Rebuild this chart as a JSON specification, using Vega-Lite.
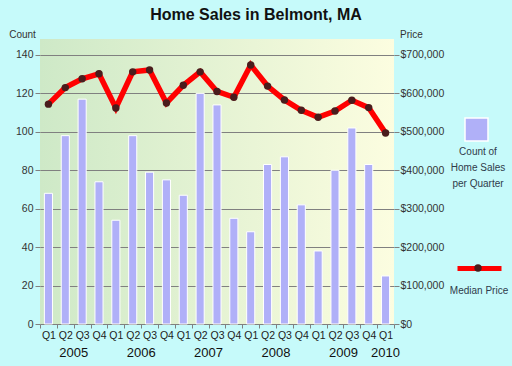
{
  "$schema": "https://vega.github.io/schema/vega-lite/v6.json",
  "width": 354,
  "height": 285,
  "autosize": {"type": "none"},
  "padding": {"left": 40, "top": 39, "right": 118, "bottom": 42},
  "background": "#c6fafa",
  "title": {"text": "Home Sales in Belmont, MA", "font": "Liberation Sans", "fontSize": 16, "fontWeight": "bold", "color": "#111111", "anchor": "middle", "dx": 39, "offset": 6},
  "datasets": {
    "sales": [
      {"period": "2005 Q1", "count": 68, "price": 572000},
      {"period": "2005 Q2", "count": 98, "price": 615000},
      {"period": "2005 Q3", "count": 117, "price": 638000},
      {"period": "2005 Q4", "count": 74, "price": 651000},
      {"period": "2006 Q1", "count": 54, "price": 562000},
      {"period": "2006 Q2", "count": 98, "price": 656000},
      {"period": "2006 Q3", "count": 79, "price": 661000},
      {"period": "2006 Q4", "count": 75, "price": 575000},
      {"period": "2007 Q1", "count": 67, "price": 621000},
      {"period": "2007 Q2", "count": 120, "price": 656000},
      {"period": "2007 Q3", "count": 114, "price": 605000},
      {"period": "2007 Q4", "count": 55, "price": 590000},
      {"period": "2008 Q1", "count": 48, "price": 674000},
      {"period": "2008 Q2", "count": 83, "price": 619000},
      {"period": "2008 Q3", "count": 87, "price": 583000},
      {"period": "2008 Q4", "count": 62, "price": 556000},
      {"period": "2009 Q1", "count": 38, "price": 538000},
      {"period": "2009 Q2", "count": 80, "price": 554000},
      {"period": "2009 Q3", "count": 102, "price": 582000},
      {"period": "2009 Q4", "count": 83, "price": 563000},
      {"period": "2010 Q1", "count": 25, "price": 497000}
    ],
    "years": [
      {"period": "2005 Q2", "year": "2005"},
      {"period": "2006 Q2", "year": "2006"},
      {"period": "2007 Q2", "year": "2007"},
      {"period": "2008 Q2", "year": "2008"},
      {"period": "2009 Q2", "year": "2009"},
      {"period": "2010 Q1", "year": "2010"}
    ]
  },
  "data": {"name": "sales"},
  "layer": [
    {
      "layer": [
        {
          "mark": {"type": "bar", "stroke": "#ffffff", "strokeWidth": 1, "width": {"band": 0.48}},
          "encoding": {
            "x": {
              "field": "period", "type": "ordinal",
              "scale": {"paddingInner": 0, "paddingOuter": 0},
              "axis": {
                "title": null, "tickBand": "extent", "labelExpr": "substring(datum.label, 5)",
                "labelAngle": 0, "labelPadding": 2, "labelFontSize": 10.5, "labelColor": "#222222",
                "tickColor": "#808080", "tickSize": 4,
                "domain": false, "grid": false
              }
            },
            "y": {
              "field": "count", "type": "quantitative",
              "scale": {"domain": [0, 148.3], "nice": false},
              "axis": {
                "title": "Count", "titleAngle": 0, "titleX": -18, "titleY": -5, "titleAlign": "center", "titleBaseline": "middle",
                "titleFontSize": 10, "titleFontWeight": "normal", "titleColor": "#333333",
                "values": [0, 20, 40, 60, 80, 100, 120, 140],
                "grid": true, "gridColor": "#808080", "domain": false, "tickSize": 5, "tickColor": "#808080",
                "labelPadding": 2, "labelFontSize": 10.5, "labelColor": "#333333"
              }
            },
            "fill": {
              "datum": "Count of Home Sales per Quarter",
              "scale": {"range": ["#b0b0f8"]},
              "legend": {
                "orient": "none", "legendX": 411, "legendY": 78,
                "title": ["Count of", "Home Sales", "per Quarter"], "titleOrient": "bottom", "titleAlign": "center", "titleAnchor": "middle",
                "titleFontSize": 10, "titleFontWeight": "normal", "titleColor": "#2f3b4a", "titleLineHeight": 16, "titlePadding": 3,
                "symbolType": "square", "symbolSize": 529, "symbolStrokeColor": "#ffffff", "symbolStrokeWidth": 1.5,
                "labelExpr": "''", "labelOffset": 0, "symbolOffset": 0, "padding": 0
              }
            }
          }
        },
        {
          "data": {"name": "years"},
          "transform": [{"filter": "datum.year != '2010'"}],
          "mark": {"type": "text", "fontSize": 13, "color": "#111111", "baseline": "middle", "align": "center", "dy": 29},
          "encoding": {
            "x": {"field": "period", "type": "ordinal", "bandPosition": 1},
            "y": {"datum": 0, "type": "quantitative"},
            "text": {"field": "year"}
          }
        },
        {
          "data": {"name": "years"},
          "transform": [{"filter": "datum.year == '2010'"}],
          "mark": {"type": "text", "fontSize": 13, "color": "#111111", "baseline": "middle", "align": "center", "dy": 29},
          "encoding": {
            "x": {"field": "period", "type": "ordinal", "bandPosition": 0.5},
            "y": {"datum": 0, "type": "quantitative"},
            "text": {"field": "year"}
          }
        }
      ]
    },
    {
      "layer": [
        {
          "mark": {"type": "line", "strokeWidth": 5.5},
          "encoding": {
            "x": {"field": "period", "type": "ordinal"},
            "y": {
              "field": "price", "type": "quantitative",
              "scale": {"domain": [0, 741500], "nice": false},
              "axis": {
                "orient": "right", "format": "$,d", "title": "Price", "titleAngle": 0, "titleX": 17, "titleY": -5,
                "titleAlign": "center", "titleBaseline": "middle", "titleFontSize": 10, "titleFontWeight": "normal", "titleColor": "#333333",
                "values": [0, 100000, 200000, 300000, 400000, 500000, 600000, 700000],
                "grid": false, "domain": false, "tickSize": 5, "tickColor": "#808080",
                "labelPadding": 1, "labelFontSize": 10.5, "labelColor": "#333333"
              }
            },
            "stroke": {
              "datum": "Median Price",
              "scale": {"range": ["#ff0000"]},
              "legend": {
                "orient": "none", "legendX": 415, "legendY": 205, "title": null,
                "symbolType": "stroke", "symbolSize": 1936, "symbolStrokeWidth": 5,
                "labelExpr": "''", "labelOffset": 0, "symbolOffset": 0, "padding": 0
              }
            }
          }
        },
        {
          "mark": {"type": "point", "filled": true, "color": "#4a1c1c", "size": 55, "opacity": 1},
          "encoding": {
            "x": {"field": "period", "type": "ordinal"},
            "y": {"field": "price", "type": "quantitative"},
            "shape": {
              "datum": "median",
              "scale": {"range": ["circle"]},
              "legend": {
                "orient": "none", "legendX": 410, "legendY": 224,
                "title": "Median Price", "titleOrient": "bottom", "titleAlign": "center", "titleAnchor": "middle",
                "titleFontSize": 10, "titleFontWeight": "normal", "titleColor": "#2f3b4a", "titlePadding": 11,
                "symbolSize": 55, "symbolFillColor": "#4a1c1c", "symbolStrokeColor": "#4a1c1c",
                "labelExpr": "''", "labelOffset": 0, "symbolOffset": 0, "padding": 0
              }
            }
          }
        }
      ]
    }
  ],
  "resolve": {"scale": {"y": "independent"}},
  "config": {
    "font": "Liberation Sans",
    "view": {
      "stroke": null,
      "fill": {"gradient": "linear", "x1": 0, "y1": 0, "x2": 1, "y2": 0, "stops": [{"offset": 0, "color": "#cee9c7"}, {"offset": 1, "color": "#fcfde0"}]}
    }
  }
}
